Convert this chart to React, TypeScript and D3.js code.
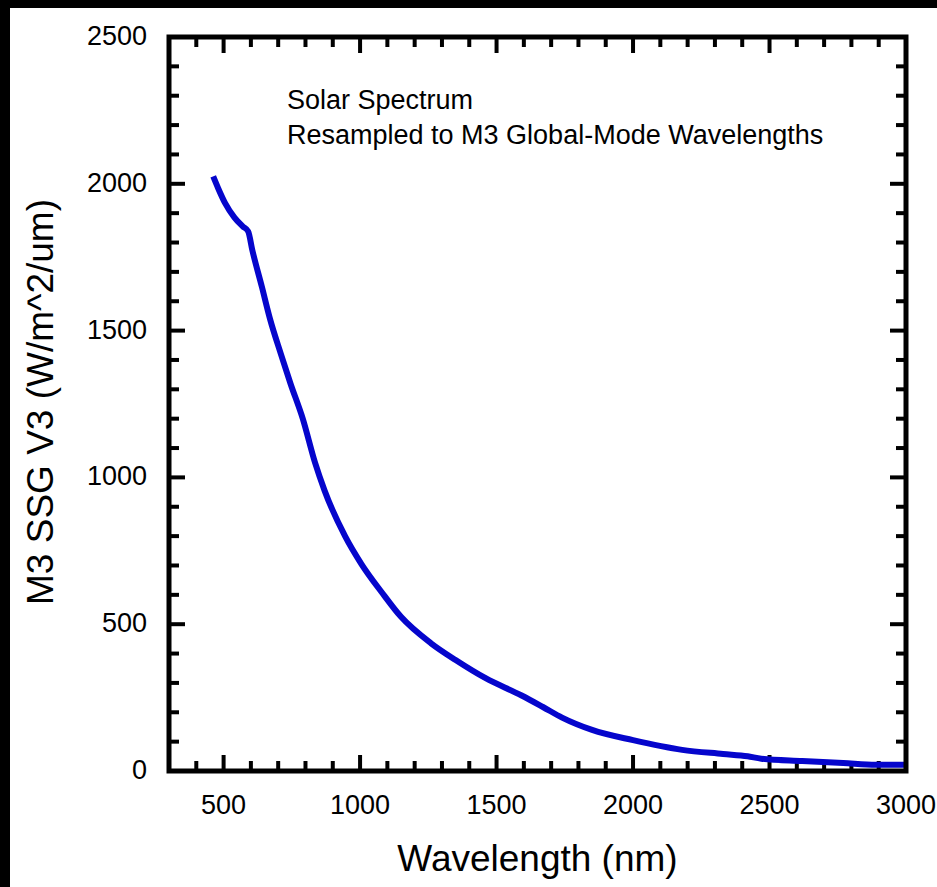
import { useEffect, useRef } from "react"
import * as d3 from "d3"

// wavelength (nm) and irradiance (W/m^2/um)
const wavelengths = [
  462, 480, 505, 540, 570, 590, 605, 640, 670, 710, 745, 790, 835, 870, 945, 1005, 1080, 1150,
  1260, 1350, 1460, 1590, 1670, 1740, 1850, 2000, 2180, 2330, 2420, 2470, 2620, 2770, 2890, 2995,
]
const irradiance = [
  2025, 1985, 1935, 1885, 1855, 1838, 1775, 1650, 1540, 1420, 1320, 1200, 1050, 955, 800, 705, 608,
  525, 435, 378, 316, 258, 218, 182, 140, 105, 72, 58, 50, 42, 34, 27, 21, 21,
]
const xTickLabels = [500, 1000, 1500, 2000, 2500, 3000]
const yTickLabels = [0, 500, 1000, 1500, 2000, 2500]
const noteLines = ["Solar Spectrum", "Resampled to M3 Global-Mode Wavelengths"]

const App = () => {
  const svgRef = useRef<SVGSVGElement>(null)

  useEffect(() => {
    const svg = d3.select(svgRef.current)
    svg.selectAll("*").remove()

    const W = 937
    const H = 887
    const left = 169
    const right = 906
    const top = 37
    const bottom = 771
    const font = "'Liberation Sans', Arial, sans-serif"

    svg.attr("width", W).attr("height", H)

    // black band round the picture
    svg.append("rect").attr("width", W).attr("height", H).attr("fill", "#000")
    svg.append("rect").attr("x", 10).attr("y", 8).attr("width", W - 10).attr("height", H - 8).attr("fill", "#fff")

    const x = d3.scaleLinear().domain([300, 3000]).range([left, right])
    const y = d3.scaleLinear().domain([0, 2500]).range([bottom, top])

    const data = wavelengths.map((w, i) => ({ w, v: irradiance[i] }))

    // ticks on all four sides, pointing in
    const xMinor = d3.range(400, 3000, 100)
    const yMinor = d3.range(100, 2500, 100)
    const tickLen = (v: number) => (v % 500 === 0 ? 16 : 10)
    const ticks = svg.append("g").attr("stroke", "#000").attr("stroke-width", 4)

    xMinor.forEach((v) => {
      const px = x(v)
      ticks.append("line").attr("x1", px).attr("x2", px).attr("y1", bottom).attr("y2", bottom - tickLen(v))
      ticks.append("line").attr("x1", px).attr("x2", px).attr("y1", top).attr("y2", top + tickLen(v))
    })
    yMinor.forEach((v) => {
      const py = y(v)
      ticks.append("line").attr("y1", py).attr("y2", py).attr("x1", left).attr("x2", left + tickLen(v))
      ticks.append("line").attr("y1", py).attr("y2", py).attr("x1", right).attr("x2", right - tickLen(v))
    })

    // the curve
    const line = d3
      .line<{ w: number; v: number }>()
      .x((d) => x(d.w))
      .y((d) => y(d.v))
      .curve(d3.curveMonotoneX)

    svg
      .append("path")
      .datum(data)
      .attr("d", line)
      .attr("fill", "none")
      .attr("stroke", "#0505cc")
      .attr("stroke-width", 6)
      .attr("stroke-linejoin", "round")

    // frame
    svg
      .append("rect")
      .attr("x", left)
      .attr("y", top)
      .attr("width", right - left)
      .attr("height", bottom - top)
      .attr("fill", "none")
      .attr("stroke", "#000")
      .attr("stroke-width", 5)

    // tick labels
    svg
      .append("g")
      .selectAll("text")
      .data(xTickLabels)
      .enter()
      .append("text")
      .attr("x", (d) => x(d))
      .attr("y", 814)
      .attr("text-anchor", "middle")
      .style("font-family", font)
      .style("font-size", "27px")
      .text((d) => d)

    svg
      .append("g")
      .selectAll("text")
      .data(yTickLabels)
      .enter()
      .append("text")
      .attr("x", 147)
      .attr("y", (d) => y(d) + 8)
      .attr("text-anchor", "end")
      .style("font-family", font)
      .style("font-size", "27px")
      .text((d) => d)

    // axis titles
    svg
      .append("text")
      .attr("x", (left + right) / 2)
      .attr("y", 871)
      .attr("text-anchor", "middle")
      .style("font-family", font)
      .style("font-size", "37px")
      .text("Wavelength (nm)")

    svg
      .append("text")
      .attr("transform", `translate(53, ${(top + bottom) / 2 - 2}) rotate(-90)`)
      .attr("text-anchor", "middle")
      .style("font-family", font)
      .style("font-size", "37px")
      .text("M3 SSG V3 (W/m^2/um)")

    // note inside the plot
    svg
      .append("g")
      .selectAll("text")
      .data(noteLines)
      .enter()
      .append("text")
      .attr("x", 287)
      .attr("y", (d, i) => 109 + i * 35)
      .style("font-family", font)
      .style("font-size", "27px")
      .text((d) => d)
  }, [])

  return (
    <div style={{ position: "fixed", left: 0, top: 0 }}>
      <svg ref={svgRef} style={{ display: "block" }}></svg>
    </div>
  )
}

export default App
